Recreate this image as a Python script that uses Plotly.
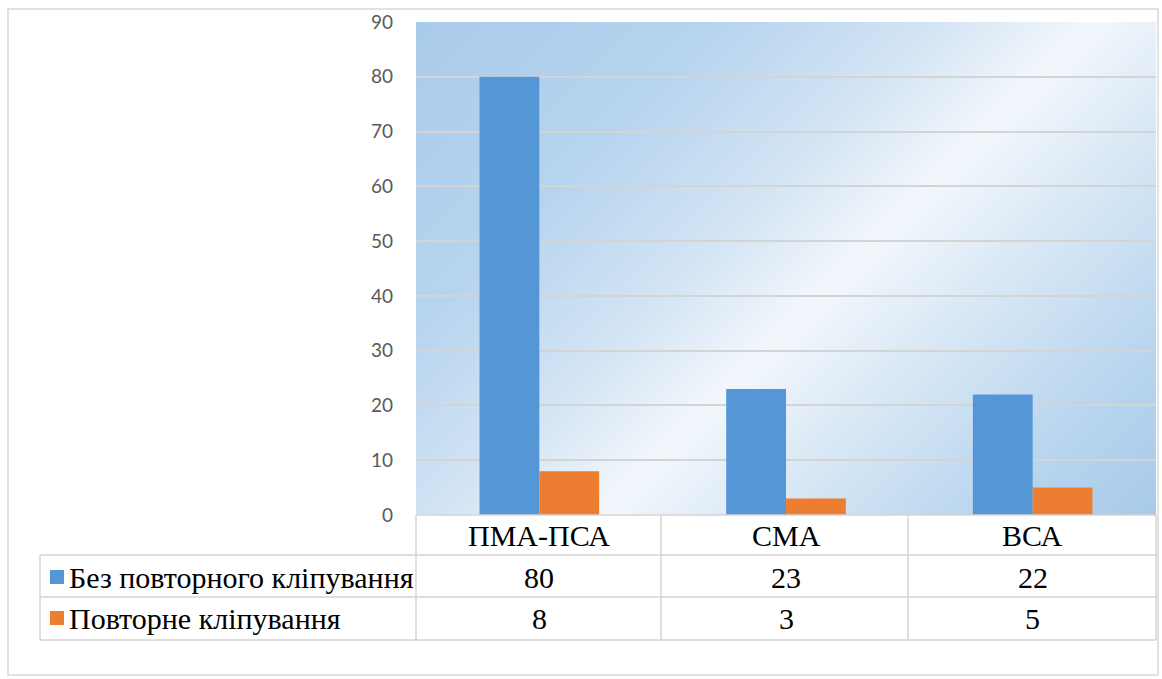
import base64
import plotly.graph_objects as go

# ---- data ----
categories = ["ПМА-ПСА", "СМА", "ВСА"]
series_names = ["Без повторного кліпування", "Повторне кліпування"]
no_reclip = [80, 23, 22]
reclip = [8, 3, 5]
y_ticks = [0, 10, 20, 30, 40, 50, 60, 70, 80, 90]

series_values = [no_reclip, reclip]
series_colors = ["#5597d6", "#ed7d31"]

W, H = 1162, 679

# plot area in pixels
PX0, PX1 = 416, 1156
PY0, PY1 = 22, 515  # top, bottom


def fx(px):
    return px / W


def fy(py):
    return 1 - py / H


# soft diagonal gradient for the plot background
gw, gh = PX1 - PX0, PY1 - PY0
svg = f"""<svg xmlns='http://www.w3.org/2000/svg' width='{gw}' height='{gh}' viewBox='0 0 {gw} {gh}' preserveAspectRatio='none'>
<defs><linearGradient id='g' gradientUnits='userSpaceOnUse' x1='0' y1='0' x2='{(gw+gh)/2:.0f}' y2='{(gw+gh)/2:.0f}'>
<stop offset='0' stop-color='#a9cbea'/>
<stop offset='0.25' stop-color='#b7d4ef'/>
<stop offset='0.42' stop-color='#d3e4f4'/>
<stop offset='0.55' stop-color='#f2f7fc'/>
<stop offset='0.68' stop-color='#d9e8f5'/>
<stop offset='0.85' stop-color='#bad6ef'/>
<stop offset='1' stop-color='#a8caea'/>
</linearGradient></defs>
<rect width='{gw}' height='{gh}' fill='url(#g)'/></svg>"""
bg_src = "data:image/svg+xml;base64," + base64.b64encode(svg.encode()).decode()

fig = go.Figure()
for name, vals, col in zip(series_names, series_values, series_colors):
    fig.add_trace(go.Bar(x=categories, y=vals, name=name, marker=dict(color=col, line=dict(width=0))))

serif = "Liberation Serif, Times New Roman, serif"
fsize = 30

shapes = []
annotations = []
grid_col = "#d4d4d4"

# outer frame
shapes.append(dict(type="rect", xref="paper", yref="paper", x0=fx(8), x1=fx(1158), y0=fy(675), y1=fy(9),
                   line=dict(color="#d9d9d9", width=1.5), fillcolor="rgba(0,0,0,0)", layer="below"))

# data table grid
row_y = [515, 555, 597, 640]
col_x = [416, 661, 908, 1156]
for i, yy in enumerate(row_y):
    x_start = 416 if i == 0 else 40
    shapes.append(dict(type="line", xref="paper", yref="paper", x0=fx(x_start), x1=fx(col_x[-1]),
                       y0=fy(yy), y1=fy(yy), line=dict(color=grid_col, width=1.5)))
for xx in col_x:
    shapes.append(dict(type="line", xref="paper", yref="paper", x0=fx(xx), x1=fx(xx),
                       y0=fy(515), y1=fy(640), line=dict(color=grid_col, width=1.5)))
shapes.append(dict(type="line", xref="paper", yref="paper", x0=fx(40), x1=fx(40),
                   y0=fy(555), y1=fy(640), line=dict(color=grid_col, width=1.5)))

# category header row
for c in categories:
    annotations.append(dict(x=c, xref="x", y=fy(535), yref="paper", text=c, showarrow=False,
                            yanchor="middle", font=dict(family=serif, size=fsize, color="#000000")))

# series rows: legend key, name, values
row_centers = [577, 618]
for name, vals, col, yc in zip(series_names, series_values, series_colors, row_centers):
    shapes.append(dict(type="rect", xref="paper", yref="paper", x0=fx(50), x1=fx(64),
                       y0=fy(yc + 7), y1=fy(yc - 7), fillcolor=col, line=dict(width=0)))
    annotations.append(dict(x=fx(67), xref="paper", y=fy(yc), yref="paper", text=name, showarrow=False,
                            xanchor="left", yanchor="middle",
                            font=dict(family=serif, size=fsize, color="#000000")))
    for c, v in zip(categories, vals):
        annotations.append(dict(x=c, xref="x", y=fy(yc), yref="paper", text=str(v), showarrow=False,
                                yanchor="middle", font=dict(family=serif, size=fsize, color="#000000")))

fig.update_layout(
    width=W, height=H,
    margin=dict(l=0, r=0, t=0, b=0, pad=0),
    paper_bgcolor="white",
    plot_bgcolor="rgba(0,0,0,0)",
    showlegend=False,
    barmode="group",
    bargap=0.515,
    bargroupgap=0,
    images=[dict(source=bg_src, xref="paper", yref="paper", x=fx(PX0), y=fy(PY0),
                 sizex=fx(PX1) - fx(PX0), sizey=fy(PY0) - fy(PY1), sizing="stretch",
                 xanchor="left", yanchor="top", layer="below")],
    xaxis=dict(domain=[fx(PX0), fx(PX1)], showticklabels=False, showgrid=False, zeroline=False,
               showline=False, ticks="", automargin=False),
    yaxis=dict(domain=[fy(PY1), fy(PY0)], range=[0, 90], tickvals=y_ticks,
               ticktext=[str(t) for t in y_ticks], showgrid=True, gridcolor=grid_col, gridwidth=1.5,
               zeroline=False, showline=False, ticks="", ticklabelstandoff=22, automargin=False,
               tickfont=dict(family="Lato", size=19, color="#595959")),
    shapes=shapes,
    annotations=annotations,
)

fig.write_html("out.html")
